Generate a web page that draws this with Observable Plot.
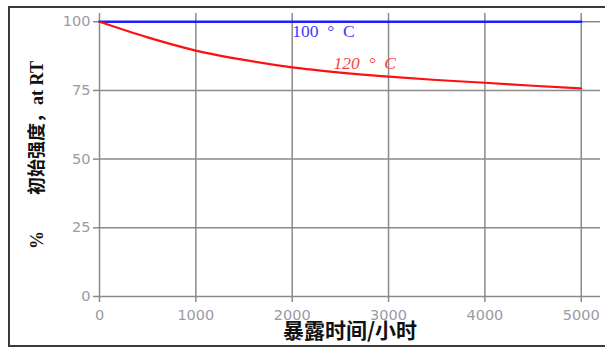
<!DOCTYPE html>
<html>
<head>
<meta charset="utf-8">
<script src="https://cdn.jsdelivr.net/npm/d3@7"></script>
<script src="https://cdn.jsdelivr.net/npm/@observablehq/plot@0.6"></script>
<style>
  html, body { margin: 0; padding: 0; background: #fff; overflow: hidden; }
  #wrap { position: relative; width: 605px; height: 351px; }
  #frame {
    position: absolute; left: 8px; top: 6px; width: 640px; height: 341px;
    border: 2px solid #3a3a3a; box-sizing: border-box; pointer-events: none;
  }
  #chart { position: absolute; left: 0; top: 0; }
  #chart text.pre { white-space: pre; }
</style>
</head>
<body>
<div id="wrap">
  <div id="chart"></div>
  <div id="frame"></div>
</div>
<script>
// Exposure time (hours) and retained strength (% of initial, tested at RT)
const hours = [0, 500, 1000, 1500, 2000, 2500, 3000, 3500, 4000, 4500, 5000];
const strength100C = [100, 100, 100, 100, 100, 100, 100, 100, 100, 100, 100];
const strength120C = [100, 94.3, 89.5, 86.1, 83.4, 81.5, 80.0, 78.8, 77.8, 76.7, 75.7];

const xTicks = [0, 1000, 2000, 3000, 4000, 5000];
const yTicks = [0, 25, 50, 75, 100];

const seriesNames = ["100  °  C", "120  °  C"];
const xTitle = "暴露时间/小时";
const yTitle = "%\u3000\u3000初始强度，at RT";

const rows100 = hours.map((h, i) => ({hours: h, value: strength100C[i]}));
const rows120 = hours.map((h, i) => ({hours: h, value: strength120C[i]}));

const gridColor = "#8a8a8a";
const tickFont = "DejaVu Sans, sans-serif";
const titleFont = "'Liberation Serif', 'Noto Sans CJK SC', serif";
const labelFont = "'Liberation Serif', serif";

const chart = Plot.plot({
  width: 605,
  height: 351,
  marginLeft: 99,
  marginRight: 5,
  marginTop: 13,
  marginBottom: 55,
  style: {background: "transparent", overflow: "visible"},
  x: {domain: [0, 5200], ticks: xTicks, axis: null},
  y: {domain: [0, 103], ticks: yTicks, axis: null},
  marks: [
    // grid
    Plot.ruleY(yTicks, {stroke: gridColor, strokeWidth: 1.5}),
    Plot.ruleX(xTicks, {stroke: gridColor, strokeWidth: 1.5}),
    // axes
    Plot.axisX(xTicks, {
      tickSize: 6, tickPadding: 7, stroke: gridColor, strokeWidth: 1.5,
      tickFormat: d3.format("d"),
      fill: "#9a9aa4", fontSize: 14.5, fontFamily: tickFont, label: null
    }),
    Plot.axisY(yTicks, {
      tickSize: 6, tickPadding: 3, stroke: gridColor, strokeWidth: 1.5,
      tickFormat: d3.format("d"),
      fill: "#9a9aa4", fontSize: 14.5, fontFamily: tickFont, label: null
    }),
    // series
    Plot.line(rows100, {x: "hours", y: "value", stroke: "#1f1fff", strokeWidth: 2.5}),
    Plot.line(rows120, {x: "hours", y: "value", stroke: "#ff1010", strokeWidth: 2.2, curve: "monotone-x"}),
    // series labels
    Plot.text([seriesNames[0]], {
      x: 2000, y: 100, dy: 10, textAnchor: "start", fill: "#3a3aff",
      fontSize: 17.5, fontFamily: labelFont, className: "pre"
    }),
    Plot.text([seriesNames[1]], {
      x: 2430, y: 85, textAnchor: "start", fill: "#ff4040",
      fontSize: 17.5, fontStyle: "italic", fontFamily: labelFont, className: "pre"
    }),
    // axis titles
    Plot.text([xTitle], {
      frameAnchor: "bottom", dy: 41, fill: "#111", fontWeight: "bold",
      fontSize: 21, fontFamily: "'Noto Sans CJK SC', sans-serif"
    }),
    Plot.text([yTitle], {
      frameAnchor: "left", textAnchor: "middle", dx: -62, dy: 0, rotate: -90,
      fill: "#111", fontWeight: "bold", fontSize: 18, fontFamily: titleFont
    })
  ]
});

document.getElementById("chart").appendChild(chart);
</script>
</body>
</html>
